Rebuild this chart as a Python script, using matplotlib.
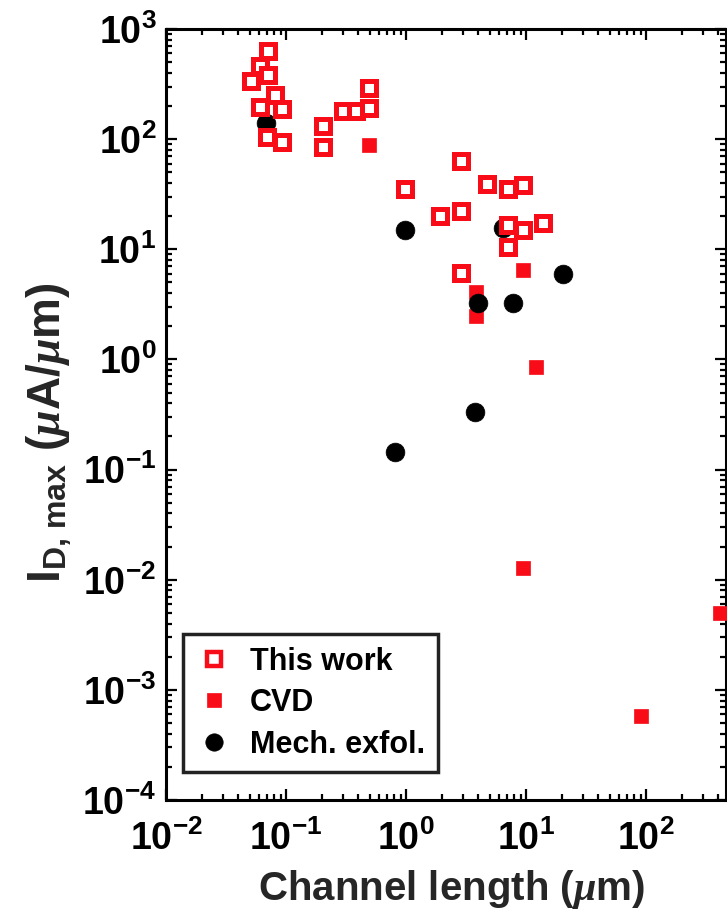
import numpy as np
import matplotlib
matplotlib.use('Agg')
import matplotlib.pyplot as plt
from matplotlib.ticker import FixedLocator, NullFormatter, LogLocator
from matplotlib.lines import Line2D

# ---- data ----
this_work_L = [0.0712, 0.0607, 0.0508, 0.0703, 0.081, 0.0607, 0.092, 0.0698, 0.092,
               0.202, 0.202, 0.297, 0.383, 0.495, 0.495,
               0.98, 2.87, 4.76, 7.12, 9.39, 1.92, 2.87, 7.12, 9.5, 13.9, 7.12, 2.87]
this_work_I = [635, 461, 340, 382, 252, 195, 187, 104, 95,
               132, 85, 181, 181, 290, 191,
               35.1, 63.7, 39.1, 35.1, 38.1, 20.1, 22.3, 16.6, 15.0, 17.2, 10.4, 6.1]
cvd_L = [0.495, 9.39, 3.83, 3.83, 12.1, 9.5, 90.9, 414]
cvd_I = [88.5, 6.5, 4.1, 2.48, 0.85, 0.0129, 5.8e-4, 5.0e-3]
mech_L = [0.0681, 0.98, 6.47, 4.0, 7.74, 20.5, 3.76, 0.803]
mech_I = [141, 15.0, 15.5, 3.23, 3.27, 5.93, 0.335, 0.145]

series_names = ['This work', 'CVD', 'Mech. exfol.']

x_ticks = [1e-2, 1e-1, 1e0, 1e1, 1e2]
x_ticklabels = [r'$\mathbf{10^{-2}}$', r'$\mathbf{10^{-1}}$', r'$\mathbf{10^{0}}$',
                r'$\mathbf{10^{1}}$', r'$\mathbf{10^{2}}$']
y_ticks = [1e-4, 1e-3, 1e-2, 1e-1, 1e0, 1e1, 1e2, 1e3]
y_ticklabels = [r'$\mathbf{10^{-4}}$', r'$\mathbf{10^{-3}}$', r'$\mathbf{10^{-2}}$',
                r'$\mathbf{10^{-1}}$', r'$\mathbf{10^{0}}$', r'$\mathbf{10^{1}}$',
                r'$\mathbf{10^{2}}$', r'$\mathbf{10^{3}}$']

x_label = r'Channel length ($\mu$m)'
y_label = r'$\mathbf{I}_{\mathrm{D,\,max}}$ ($\mu$A/$\mu$m)'

# ---- style ----
plt.rcParams['font.family'] = ['Liberation Sans', 'DejaVu Sans']
plt.rcParams['font.weight'] = 'bold'
plt.rcParams['mathtext.fontset'] = 'custom'
plt.rcParams['mathtext.rm'] = 'Liberation Sans'
plt.rcParams['mathtext.bf'] = 'Liberation Sans:bold'
plt.rcParams['mathtext.it'] = 'Liberation Serif:italic'

RED = '#f80c18'
W, H = 727, 911
fig = plt.figure(figsize=(W / 100, H / 100), dpi=100)
left, right, top, bottom = 166, 726, 29, 800
ax = fig.add_axes([left / W, 1 - bottom / H, (right - left) / W, (bottom - top) / H])

ax.set_xscale('log')
ax.set_yscale('log')
ax.set_xlim(1e-2, 10 ** ((right - left) / 120 - 2))
ax.set_ylim(1e-4, 1e3)

ax.plot(cvd_L, cvd_I, linestyle='none', marker='s', ms=10.5, mew=0.5,
        mfc=RED, mec=RED, zorder=3, clip_on=False)
ax.plot(mech_L, mech_I, linestyle='none', marker='o', ms=13.5, mew=0.5,
        mfc='black', mec='black', zorder=4, clip_on=False)
ax.plot(this_work_L, this_work_I, linestyle='none', marker='s', ms=10.3, mew=3.6,
        mfc='white', mec=RED, zorder=5, clip_on=False)

ax.xaxis.set_major_locator(FixedLocator(x_ticks))
ax.set_xticklabels(x_ticklabels)
ax.yaxis.set_major_locator(FixedLocator(y_ticks))
ax.set_yticklabels(y_ticklabels)
ax.xaxis.set_minor_locator(LogLocator(base=10, subs=np.arange(2, 10), numticks=20))
ax.yaxis.set_minor_locator(LogLocator(base=10, subs=np.arange(2, 10), numticks=20))
ax.xaxis.set_minor_formatter(NullFormatter())
ax.yaxis.set_minor_formatter(NullFormatter())

ax.tick_params(which='both', direction='in', top=True, right=True, width=1.6,
               labelsize=27, colors='black')
ax.tick_params(which='major', length=8)
ax.tick_params(which='minor', length=4.5)
ax.tick_params(axis='y', which='major', pad=7)
ax.tick_params(axis='x', which='major', pad=15)
for s in ax.spines.values():
    s.set_linewidth(2.2)
    s.set_color('black')

ax.set_xlabel(x_label, fontsize=29, fontweight='bold', color='#262626')
ax.xaxis.set_label_coords(0.51, -0.088)
ax.set_ylabel(y_label, fontsize=33, fontweight='bold', color='#262626')
ax.yaxis.set_label_coords(-0.165, 0.476)

handles = [
    Line2D([], [], linestyle='none', marker='s', ms=9.5, mew=3.2, mfc='white', mec=RED),
    Line2D([], [], linestyle='none', marker='s', ms=10, mew=0.5, mfc=RED, mec=RED),
    Line2D([], [], linestyle='none', marker='o', ms=12.5, mew=0.5, mfc='black', mec='black'),
]
leg = ax.legend(handles, series_names, loc='lower left',
                bbox_to_anchor=((183 - left) / (right - left), (bottom - 772) / (bottom - top)),
                borderaxespad=0, frameon=True, fancybox=False, framealpha=1,
                edgecolor='#222222', prop={'size': 22, 'weight': 'bold'},
                handlelength=1.2, handletextpad=0.6, labelspacing=0.38,
                borderpad=0.4)
leg.get_frame().set_linewidth(2.5)

fig.savefig('out.png', dpi=100)
